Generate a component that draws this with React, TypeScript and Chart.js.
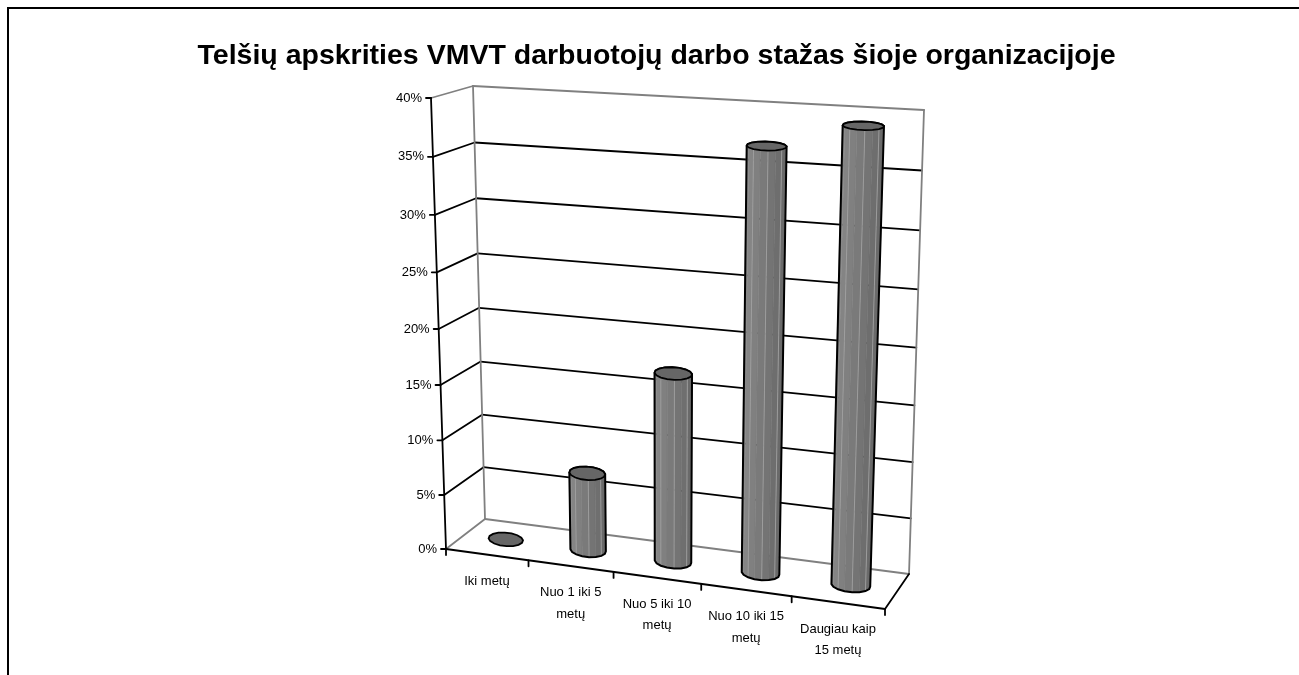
import React, { useEffect, useRef } from "react";
import { Chart, registerables } from "chart.js";

Chart.register(...registerables);

const titleText = "Telšių apskrities VMVT darbuotojų darbo stažas šioje organizacijoje";
const categories = [
  ["Iki metų"],
  ["Nuo 1 iki 5", "metų"],
  ["Nuo 5 iki 10", "metų"],
  ["Nuo 10 iki 15", "metų"],
  ["Daugiau kaip", "15 metų"],
];
const seriesValues = [0, 7.1, 16.9, 36.9, 39];
const axisMax = 40;
const axisStep = 5;

// View geometry of the 3-D box, in page pixels: front/back, bottom/top, left/right corners
type P = [number, number];
const OFFSET = 7;
const box = {
  fbl: [446, 549] as P, fbr: [885, 609] as P, ftl: [431, 98] as P, ftr: [902, 122] as P,
  bbl: [485, 519] as P, bbr: [909, 574] as P, btl: [473, 86] as P, btr: [924, 110] as P,
};
const warpU = 1.08;
const warpV = 1.05;
const warp = (t: number, c: number) => t / (t + c * (1 - t));
const lerp = (a: P, b: P, t: number): P => [a[0] + (b[0] - a[0]) * t, a[1] + (b[1] - a[1]) * t];

// u: along the categories, v: along the values, z: depth (0 front, 1 back); all 0..1
function project(u: number, v: number, z: number): P {
  const uu = warp(u, warpU);
  const vv = warp(v, warpV);
  const front = lerp(lerp(box.fbl, box.fbr, uu), lerp(box.ftl, box.ftr, uu), vv);
  const back = lerp(lerp(box.bbl, box.bbr, uu), lerp(box.btl, box.btr, uu), vv);
  const p = lerp(front, back, z);
  return [p[0] - OFFSET, p[1] - OFFSET];
}

function line(ctx: CanvasRenderingContext2D, a: P, b: P, color: string, w = 1.8) {
  ctx.strokeStyle = color;
  ctx.lineWidth = w;
  ctx.beginPath();
  ctx.moveTo(a[0], a[1]);
  ctx.lineTo(b[0], b[1]);
  ctx.stroke();
}

function poly(ctx: CanvasRenderingContext2D, pts: P[]) {
  ctx.beginPath();
  pts.forEach((p, i) => (i ? ctx.lineTo(p[0], p[1]) : ctx.moveTo(p[0], p[1])));
  ctx.closePath();
}

function hull(points: P[]): P[] {
  const pts = [...points].sort((a, b) => a[0] - b[0] || a[1] - b[1]);
  const cross = (o: P, a: P, b: P) => (a[0] - o[0]) * (b[1] - o[1]) - (a[1] - o[1]) * (b[0] - o[0]);
  const lo: P[] = [];
  for (const p of pts) {
    while (lo.length >= 2 && cross(lo[lo.length - 2], lo[lo.length - 1], p) <= 0) lo.pop();
    lo.push(p);
  }
  const up: P[] = [];
  for (const p of [...pts].reverse()) {
    while (up.length >= 2 && cross(up[up.length - 2], up[up.length - 1], p) <= 0) up.pop();
    up.push(p);
  }
  return lo.slice(0, -1).concat(up.slice(0, -1));
}

const SIDES = 16;

function drawCylinder(ctx: CanvasRenderingContext2D, u: number, ru: number, v: number) {
  const ring = (vv: number): P[] => {
    const h = 6.5 - 2.5 * vv * vv; // the caps flatten near eye level
    return Array.from({ length: SIDES }, (_, i) => {
      const a = ((i + 0.5) / SIDES) * Math.PI * 2;
      const p = project(u + ru * Math.cos(a), vv, 0.5);
      return [p[0] + 2.5 * Math.sin(a), p[1] - h * Math.sin(a)] as P;
    });
  };
  const bottom = ring(0);
  const top = ring(v);
  const xs = bottom.map((p) => p[0]);
  const minX = Math.min(...xs);
  const maxX = Math.max(...xs);
  if (v > 0.001) {
    for (let i = 0; i < SIDES; i++) {
      const j = (i + 1) % SIDES;
      const a = bottom[i], b = bottom[j], c = top[j], d = top[i];
      const area = (b[0] - a[0]) * (d[1] - a[1]) - (b[1] - a[1]) * (d[0] - a[0]);
      if (area >= 0) continue; // facet turned away from the viewer
      const t = ((a[0] + b[0]) / 2 - minX) / (maxX - minX);
      const g = Math.round(136 - 32 * t);
      ctx.fillStyle = `rgb(${g},${g},${g})`;
      poly(ctx, [a, b, c, d]);
      ctx.fill();
      ctx.strokeStyle = ctx.fillStyle;
      ctx.lineWidth = 0.6;
      ctx.stroke();
    }
    for (let i = 0; i < SIDES; i += 2) {
      const a = bottom[i];
      const j = (i + 1) % SIDES;
      const prev = (i + SIDES - 1) % SIDES;
      const s1 = (bottom[j][0] - a[0]) * (top[i][1] - a[1]) - (bottom[j][1] - a[1]) * (top[i][0] - a[0]);
      const s2 = (a[0] - bottom[prev][0]) * (top[prev][1] - bottom[prev][1]) - (a[1] - bottom[prev][1]) * (top[prev][0] - bottom[prev][0]);
      if (s1 < 0 && s2 < 0) line(ctx, a, top[i], "#a0a0a0", 0.9);
    }
    ctx.strokeStyle = "#000";
    ctx.lineWidth = 2;
    poly(ctx, hull([...bottom, ...top]));
    ctx.stroke();
  }
  ctx.fillStyle = "#666666";
  ctx.strokeStyle = "#000";
  ctx.lineWidth = 1.8;
  poly(ctx, top);
  ctx.fill();
  ctx.stroke();
}

const perspectivePlugin = {
  id: "perspective",
  beforeDatasetsDraw(chart: any) {
    const ctx: CanvasRenderingContext2D = chart.ctx;
    const { left, right, top, bottom } = chart.chartArea;
    const yScale = chart.scales.y;
    const xScale = chart.scales.x;
    const toU = (px: number) => (px - left) / (right - left);
    const toV = (py: number) => (bottom - py) / (bottom - top);
    const GREY = "#808080";
    ctx.save();
    ctx.lineCap = "round";

    // frame of the picture (open at right and bottom)
    ctx.fillStyle = "#000";
    ctx.fillRect(0, 0, chart.width, 2);
    ctx.fillRect(0, 0, 2, chart.height);

    // gridlines on the side wall and the back wall
    for (const tick of yScale.ticks) {
      const v = toV(yScale.getPixelForValue(tick.value));
      const edge = v === 0 || v === 1;
      line(ctx, project(0, v, 0), project(0, v, 1), edge ? GREY : "#000");
      line(ctx, project(0, v, 1), project(1, v, 1), edge ? GREY : "#000");
      const f = project(0, v, 0);
      line(ctx, [f[0] - 5, f[1]], f, "#000");
      ctx.fillStyle = "#000";
      ctx.font = '13px "Liberation Sans", Arial, sans-serif';
      ctx.textAlign = "right";
      ctx.textBaseline = "middle";
      ctx.fillText(`${tick.value}%`, f[0] - 9, f[1]);
    }
    // wall edges
    line(ctx, project(0, 0, 1), project(0, 1, 1), GREY);
    line(ctx, project(1, 0, 1), project(1, 1, 1), GREY);
    line(ctx, project(0, 0, 0), project(0, 1, 0), "#000");
    line(ctx, project(0, 0, 0), project(1, 0, 0), "#000", 2.2);
    line(ctx, project(1, 0, 0), project(1, 0, 1), "#000");

    // category ticks and labels
    const n = xScale.ticks.length;
    for (let i = 0; i <= n; i++) {
      const p = project(i / n, 0, 0);
      line(ctx, p, [p[0], p[1] + 6], "#000");
    }
    xScale.ticks.forEach((tick: any, i: number) => {
      const c = project(toU(xScale.getPixelForTick(i)), 0, 0);
      const lines: string[] = Array.isArray(tick.label) ? tick.label : [tick.label];
      ctx.fillStyle = "#000";
      ctx.font = '13px "Liberation Sans", Arial, sans-serif';
      ctx.textAlign = "center";
      ctx.textBaseline = "middle";
      lines.forEach((s, k) => ctx.fillText(s, c[0], c[1] + 26.5 + k * 21.5));
    });

    // cylinders, read from the bar elements the library laid out
    const meta = chart.getDatasetMeta(0);
    meta.data.forEach((bar: any) => {
      drawCylinder(ctx, toU(bar.x), bar.width / 2 / (right - left), toV(bar.y));
    });
    ctx.restore();
    return false;
  },
};

export default function App() {
  const ref = useRef<HTMLCanvasElement>(null);
  useEffect(() => {
    const chart = new Chart(ref.current as HTMLCanvasElement, {
      type: "bar",
      data: {
        labels: categories as any,
        datasets: [
          {
            data: seriesValues,
            backgroundColor: "#808080",
            barPercentage: 0.42,
            categoryPercentage: 1,
          },
        ],
      },
      options: {
        responsive: false,
        animation: false,
        layout: { padding: 0 },
        plugins: {
          legend: { display: false },
          tooltip: { enabled: false },
          title: {
            display: true,
            text: titleText,
            color: "#000",
            font: { family: '"Liberation Sans", Arial, sans-serif', size: 28.5, weight: "bold" },
            padding: { top: 32, bottom: 10 },
          },
        },
        scales: {
          x: { display: false },
          y: { display: false, min: 0, max: axisMax, ticks: { stepSize: axisStep } },
        },
      } as any,
      plugins: [perspectivePlugin as any],
    });
    return () => chart.destroy();
  }, []);
  return (
    <div style={{ position: "absolute", left: OFFSET, top: OFFSET, width: 1292, height: 668, overflow: "hidden" }}>
      <canvas ref={ref} width={1299} height={668} style={{ display: "block" }} />
    </div>
  );
}
